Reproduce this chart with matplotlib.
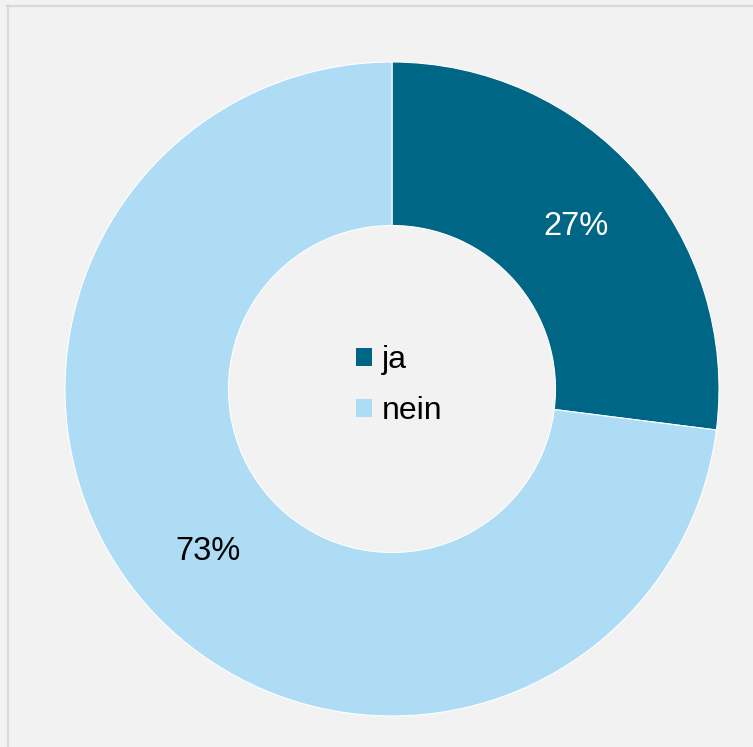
import matplotlib
matplotlib.use("Agg")
import matplotlib.pyplot as plt
from matplotlib.patches import Patch
from matplotlib.lines import Line2D

labels = ["ja", "nein"]
values = [27, 73]
colors = ["#006685", "#afdcf5"]
text_colors = ["white", "black"]

W, H, DPI = 753, 747, 100
CX, CY, R = 392, 747 - 389, 327          # pie centre / outer radius in pixels
BG = "#f2f2f2"

plt.rcParams["font.family"] = ["Liberation Sans", "DejaVu Sans"]

fig = plt.figure(figsize=(W / DPI, H / DPI), dpi=DPI, facecolor=BG)
ax = fig.add_axes([0, 0, 1, 1])
ax.set_facecolor(BG)

wedges, texts, autotexts = ax.pie(
    values, colors=colors, startangle=90, counterclock=False,
    radius=1.0, autopct="%d%%", pctdistance=0.75,
    wedgeprops=dict(width=0.5, edgecolor="white", linewidth=0.8),
    textprops=dict(fontsize=23.5),
)
for t, c in zip(autotexts, text_colors):
    t.set_color(c)

ax.set_aspect("auto")
ax.set_xlim(-CX / R, (W - CX) / R)
ax.set_ylim(-CY / R, (H - CY) / R)
ax.axis("off")

# centred legend
handles = [Patch(facecolor=c, edgecolor="none") for c in colors]
leg = ax.legend(handles, labels, loc="center", bbox_to_anchor=(0.022, 0.01),
                bbox_transform=ax.transData, frameon=False, fontsize=23,
                handlelength=0.5, handleheight=0.5, handletextpad=0.3,
                labelspacing=0.65)

# chart-area border (left and top only visible)
fig.add_artist(Line2D([7.5 / W, 7.5 / W], [0, 1 - 5.5 / H], transform=fig.transFigure,
                      color="#d9d9d9", lw=1.6))
fig.add_artist(Line2D([7 / W, 1], [1 - 5.5 / H, 1 - 5.5 / H], transform=fig.transFigure,
                      color="#d9d9d9", lw=1.6))

fig.savefig("out.png", dpi=DPI, facecolor=BG)
